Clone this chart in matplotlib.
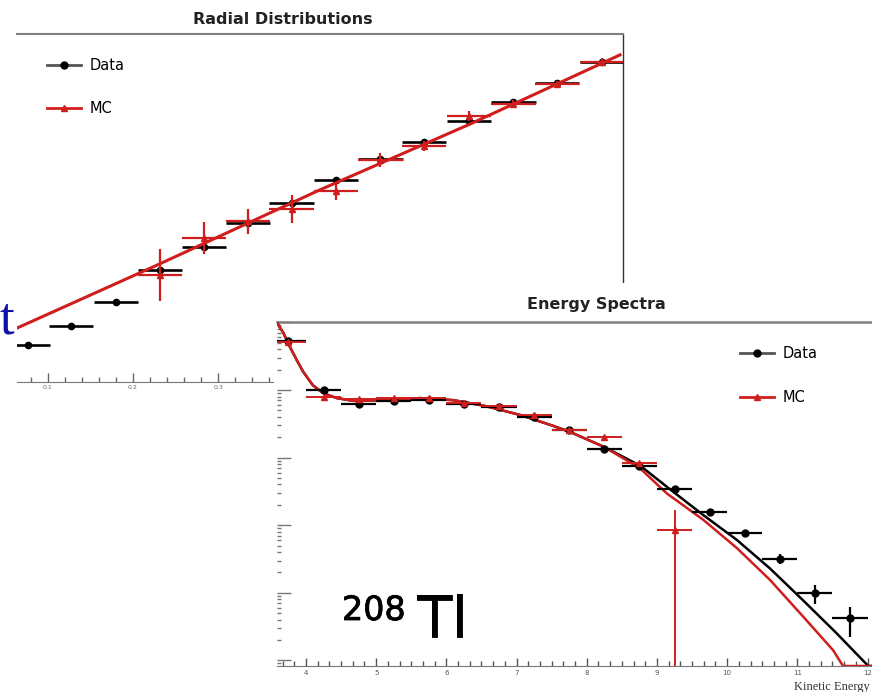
import matplotlib
matplotlib.use('Agg')
import matplotlib.pyplot as plt
import matplotlib.patheffects as pe
from matplotlib.lines import Line2D
from matplotlib.patches import Rectangle
from matplotlib.ticker import MultipleLocator, AutoMinorLocator, LogLocator, NullFormatter

plt.rcParams['font.family'] = ['DejaVu Sans']

# ---- radial distributions (arbitrary units) ----
r_bins = [0.077, 0.127, 0.180, 0.232, 0.283, 0.335, 0.386, 0.438, 0.490, 0.541, 0.594, 0.646, 0.697, 0.750]
r_data = [0.106, 0.161, 0.230, 0.322, 0.388, 0.457, 0.514, 0.580, 0.641, 0.690, 0.750, 0.805, 0.859, 0.920]
r_data_err = [0.006, 0.006, 0.006, 0.007, 0.007, 0.007, 0.007, 0.008, 0.008, 0.008, 0.008, 0.008, 0.008, 0.008]
r_mc_bins = [0.232, 0.283, 0.335, 0.386, 0.438, 0.490, 0.541, 0.594, 0.646, 0.697, 0.750]
r_mc = [0.307, 0.414, 0.462, 0.497, 0.549, 0.638, 0.678, 0.764, 0.799, 0.856, 0.920]
r_mc_err = [0.075, 0.045, 0.036, 0.040, 0.027, 0.020, 0.015, 0.015, 0.010, 0.010, 0.010]
r_fit_x = [0.064, 0.231, 0.419, 0.595, 0.771]
r_fit_y = [0.155, 0.339, 0.552, 0.741, 0.940]
r_halfwidth = 0.026

# ---- energy spectra (counts) ----
e_bins = [3.75, 4.25, 4.75, 5.25, 5.75, 6.25, 6.75, 7.25, 7.75, 8.25, 8.75,
          9.25, 9.75, 10.25, 10.75, 11.25, 11.75]
e_data = [52500, 10000, 6310, 6920, 7080, 6310, 5620, 3980, 2570, 1320, 759,
          347, 158, 76, 32, 10, 4.2]
e_data_err = [230, 100, 79, 83, 84, 79, 75, 63, 51, 36, 28, 19, 13, 8.7, 5.7, 3.2, 2.0]
e_mc_bins = [3.75, 4.25, 4.75, 5.25, 5.75, 6.25, 6.75, 7.25, 7.75, 8.25, 8.75, 9.25]
e_mc = [51300, 7940, 7410, 7590, 7590, 6460, 5890, 4270, 2570, 2040, 832, 85]
e_mc_err = [230, 90, 85, 85, 85, 80, 75, 65, 50, 45, 30, 85]
e_halfwidth = 0.25

data_fit_x = [3.58, 3.68, 3.77, 3.87, 3.96, 4.10, 4.25, 4.44, 4.67, 5.15, 5.62, 6.10, 6.57,
              7.05, 7.52, 7.76, 8.24, 8.76, 9.20, 9.66, 10.14, 10.61, 11.08, 11.56, 12.01, 12.10]
data_fit_y = [102000, 69200, 43600, 27500, 18600, 11700, 8910, 7590, 6920, 7080, 7590, 7080, 5750,
              4270, 2950, 2400, 1450, 759, 331, 141, 60.3, 22.9, 7.76, 2.51, 0.826, 0.826]
mc_fit_x = [3.58, 3.68, 3.77, 3.87, 3.96, 4.10, 4.25, 4.44, 4.67, 5.15, 5.62, 6.10, 6.57,
            7.05, 7.52, 7.76, 8.24, 8.76, 9.14, 9.66, 10.14, 10.61, 11.08, 11.51, 11.65, 12.10]
mc_fit_y = [102000, 69200, 43600, 27500, 18600, 11700, 8910, 7590, 6920, 7080, 7590, 7080, 5750,
            4270, 2950, 2400, 1450, 692, 295, 120, 45.7, 15.5, 4.47, 1.41, 0.826, 0.826]

RED = '#d01e1e'
W, H = 872, 692


def box(x0, y0, x1, y1):
    # pixel box (top-down y) -> figure fraction rect
    return [x0 / W, 1 - y1 / H, (x1 - x0) / W, (y1 - y0) / H]


fig = plt.figure(figsize=(W / 100, H / 100), dpi=100)

# ---------------- Radial Distributions ----------------
ax1 = fig.add_axes(box(17, 34, 623, 382), zorder=1)
ax1.set_xlim(0.064, 0.7745)
ax1.set_ylim(0, 1)
ax1.spines['left'].set_visible(False)
ax1.spines['top'].set_color('#808080')
ax1.spines['top'].set_linewidth(1.5)
ax1.spines['right'].set_color('#333333')
ax1.spines['right'].set_linewidth(1.0)
ax1.spines['bottom'].set_color('#777777')
ax1.set_yticks([])
ax1.xaxis.set_major_locator(MultipleLocator(0.1))
ax1.xaxis.set_minor_locator(MultipleLocator(0.02))
ax1.tick_params(axis='x', which='major', direction='in', length=6.5, width=1, color='#666666',
                labelsize=4.5, labelcolor='#666666', pad=2)
ax1.tick_params(axis='x', which='minor', direction='in', length=3.5, width=1, color='#666666')

ax1.errorbar(r_bins, r_data, xerr=r_halfwidth, yerr=r_data_err, fmt='o', color='k',
             ms=4.5, elinewidth=1.9, capsize=0, zorder=3)
ax1.plot(r_fit_x, r_fit_y, color=RED, lw=2.2, zorder=4)
ax1.errorbar(r_mc_bins, r_mc, xerr=r_halfwidth, yerr=r_mc_err, fmt='^', color=RED,
             ms=4, elinewidth=1.6, capsize=0, zorder=5)

h_data = Line2D([], [], color='#555555', lw=2, marker='o', mfc='k', mec='k', ms=5)
h_mc = Line2D([], [], color=RED, lw=2, marker='^', mfc=RED, mec=RED, ms=4)
ax1.legend([h_data, h_mc], ['Data', 'MC'], loc='upper left',
           bbox_to_anchor=(47 / W, 1 - 58 / H), bbox_transform=fig.transFigure,
           frameon=False, fontsize=10.5, handlelength=2.3, handletextpad=0.6,
           labelspacing=1.9, borderpad=0, borderaxespad=0)
fig.text(283 / W, 1 - 19 / H, 'Radial Distributions', ha='center', va='center',
         fontsize=11.5, fontweight='bold', color='#222222')

# white card of the second plot, laid over the first one
fig.add_artist(Rectangle((274 / W, 0), (W - 274) / W, (H - 283) / H,
                         transform=fig.transFigure, facecolor='white',
                         edgecolor='none', zorder=1.5))

# ---------------- Energy Spectra ----------------
ax2 = fig.add_axes(box(277, 322.4, 872, 666), zorder=2)
ax2.set_yscale('log')
ax2.set_xlim(3.587, 12.063)
ax2.set_ylim(0.826, 1e5)
ax2.spines['left'].set_visible(False)
ax2.spines['right'].set_visible(False)
ax2.spines['top'].set_color('#808080')
ax2.spines['top'].set_linewidth(1.8)
ax2.spines['bottom'].set_color('#777777')
ax2.xaxis.set_major_locator(MultipleLocator(1))
ax2.xaxis.set_minor_locator(AutoMinorLocator(6))
ax2.yaxis.set_major_locator(LogLocator(base=10, numticks=10))
ax2.yaxis.set_minor_locator(LogLocator(base=10, subs=range(2, 10), numticks=20))
ax2.yaxis.set_major_formatter(NullFormatter())
ax2.yaxis.set_minor_formatter(NullFormatter())
ax2.tick_params(axis='x', which='major', direction='in', length=6, width=1, color='#555555',
                labelsize=5, labelcolor='#555555', pad=3)
ax2.tick_params(axis='x', which='minor', direction='in', length=3.5, width=1, color='#555555')
ax2.tick_params(axis='y', which='major', direction='in', length=10, width=1, color='#777777')
ax2.tick_params(axis='y', which='minor', direction='in', length=3, width=1, color='#777777')

ax2.plot(data_fit_x, data_fit_y, color='k', lw=1.8, zorder=3)
ax2.plot(mc_fit_x, mc_fit_y, color=RED, lw=1.8, zorder=4)
ax2.errorbar(e_bins, e_data, xerr=e_halfwidth, yerr=e_data_err, fmt='o', color='k',
             ms=5, elinewidth=1.6, capsize=0, zorder=5)
ax2.errorbar(e_mc_bins, e_mc, xerr=e_halfwidth, yerr=e_mc_err, fmt='^', color=RED,
             ms=4, elinewidth=1.4, capsize=0, zorder=6)

ax2.legend([h_data, h_mc], ['Data', 'MC'], loc='upper left',
           bbox_to_anchor=(740 / W, 1 - 346 / H), bbox_transform=fig.transFigure,
           frameon=False, fontsize=10.5, handlelength=2.3, handletextpad=0.6,
           labelspacing=2.0, borderpad=0, borderaxespad=0)
fig.text(596 / W, 1 - 304 / H, 'Energy Spectra', ha='center', va='center',
         fontsize=11.5, fontweight='bold', color='#222222', zorder=3)

# isotope label
heavy = [pe.withStroke(linewidth=0.6, foreground='k')]
fig.text(342 / W, 1 - 620 / H, '208', ha='left', va='baseline', fontsize=24,
         color='k', zorder=3, path_effects=heavy)
fig.text(417 / W, 1 - 637 / H, 'Tl', ha='left', va='baseline', fontsize=41,
         color='k', zorder=3, path_effects=heavy)

fig.text(794 / W, 1 - 687 / H, 'Kinetic Energy', ha='left', va='center', fontsize=9,
         family='Liberation Serif', color='#333333', zorder=3)

# fragment of the slide text at the left edge
fig.text(0, 1 - 333 / H, 't', ha='left', va='baseline', fontsize=38,
         family='Liberation Serif', color='#1010a8', zorder=3)

fig.savefig('out.png', dpi=100)
